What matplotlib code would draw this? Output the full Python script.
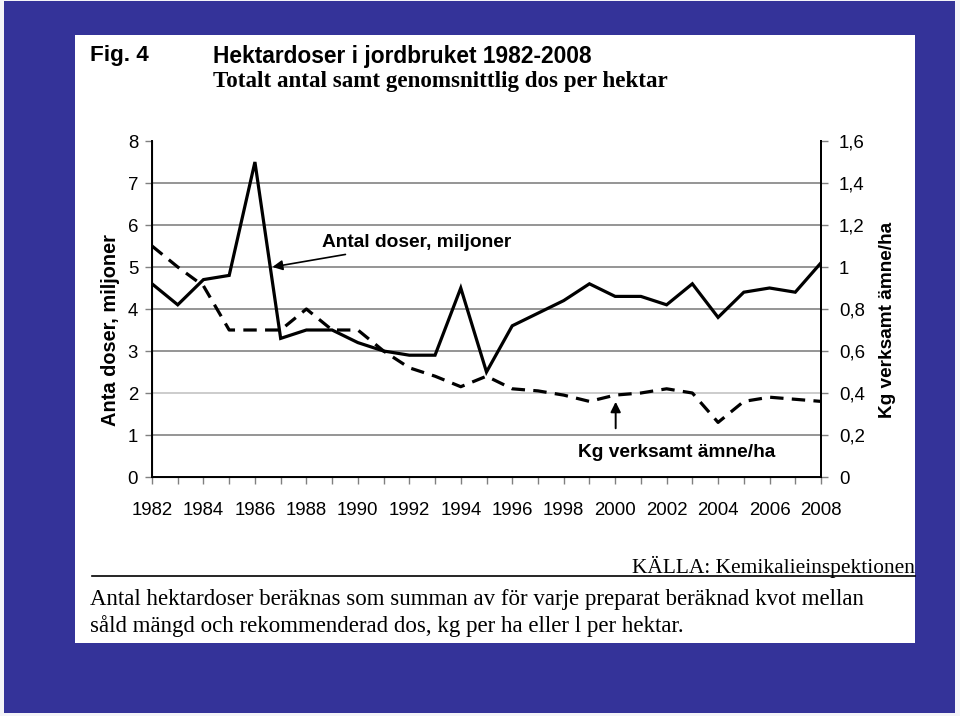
import numpy as np
import matplotlib
matplotlib.use("Agg")
from matplotlib import pyplot as plt
from matplotlib.patches import Rectangle

years = list(range(1982, 2009))
# Antal doser, miljoner (vänster axel)
doser = [4.6, 4.1, 4.7, 4.8, 7.5, 3.3, 3.5, 3.5, 3.2, 3.0, 2.9, 2.9, 4.5, 2.5,
         3.6, 3.9, 4.2, 4.6, 4.3, 4.3, 4.1, 4.6, 3.8, 4.4, 4.5, 4.4, 5.1]
# Kg verksamt ämne/ha (höger axel)
kg_ha = [1.10, 1.00, 0.91, 0.70, 0.70, 0.70, 0.80, 0.70, 0.70, 0.60, 0.52, 0.48, 0.43, 0.48,
         0.42, 0.41, 0.39, 0.36, 0.39, 0.40, 0.42, 0.40, 0.26, 0.36, 0.38, 0.37, 0.36]
left_ticks = [0, 1, 2, 3, 4, 5, 6, 7, 8]
right_ticks = [0, 0.2, 0.4, 0.6, 0.8, 1.0, 1.2, 1.4, 1.6]
right_labels = ["0", "0,2", "0,4", "0,6", "0,8", "1", "1,2", "1,4", "1,6"]

SANS = "Liberation Sans"
SERIF = "Liberation Serif"

W, H = 960, 716


def fx(x):
    return x / W


def fy(y):
    return 1 - y / H


def pt(px):
    return px * 0.72


fig = plt.figure(figsize=(9.6, 7.16), dpi=100)
fig.patch.set_facecolor("#f4f4f8")
fig.patches.append(Rectangle((fx(4), fy(713)), fx(951), (713 - 1) / H, transform=fig.transFigure,
                             facecolor="#343399", edgecolor="none", zorder=0))
fig.patches.append(Rectangle((fx(75), fy(643)), fx(840), (643 - 35) / H, transform=fig.transFigure,
                             facecolor="white", edgecolor="none", zorder=1))

ax = fig.add_axes([fx(152), fy(477), fx(821 - 152), (477 - 141) / H])
ax.set_facecolor("white")
ax.set_zorder(2)

for v in left_ticks[1:-1]:
    c = "#c8c8c8" if v == 2 else "#8c8c8c"
    ax.axhline(v, color=c, lw=1.3, zorder=1)

ax.plot(years, doser, color="black", lw=2.3, zorder=4, solid_joinstyle="miter")
ax.plot(years, np.array(kg_ha) * 5, color="black", lw=2.3, dashes=(4.2, 2.6), zorder=3)

ax.set_xlim(1982, 2008)
ax.set_ylim(0, 8)
ax.set_xticks(years)
ax.set_xticklabels([str(y) if y % 2 == 0 else "" for y in years])
ax.set_yticks(left_ticks)
ax.spines["top"].set_visible(False)
for s in ["left", "right", "bottom"]:
    ax.spines[s].set_linewidth(1.4)
ax.tick_params(axis="both", direction="out", length=5, width=1, color="#808080",
               labelsize=pt(18.6), pad=5)
ax.tick_params(axis="x", pad=13)
for lab in ax.get_xticklabels() + ax.get_yticklabels():
    lab.set_fontfamily(SANS)

ax2 = ax.twinx()
ax2.set_ylim(0, 1.6)
ax2.set_yticks(right_ticks)
ax2.set_yticklabels(right_labels)
ax2.spines["top"].set_visible(False)
ax2.spines["right"].set_linewidth(1.4)
ax2.tick_params(axis="y", direction="out", length=5, width=1, color="#808080",
                labelsize=pt(18.6), pad=8)
for lab in ax2.get_yticklabels():
    lab.set_fontfamily(SANS)

ax.annotate("Antal doser, miljoner", xy=(1986.68, 5.0), xytext=(1988.6, 5.59),
            fontsize=pt(19.1), fontweight="bold", family=SANS, va="center", ha="left",
            arrowprops=dict(arrowstyle="-|>", color="black", lw=1.2, mutation_scale=15,
                            shrinkA=4, shrinkB=0), zorder=6)
ax.annotate("", xy=(2000.02, 1.79), xytext=(2000.02, 1.16),
            arrowprops=dict(arrowstyle="-|>", color="black", lw=1.4, mutation_scale=15,
                            shrinkA=0, shrinkB=0), zorder=6)
ax.text(1998.56, 0.59, "Kg verksamt ämne/ha", fontsize=pt(19.1), fontweight="bold",
        family=SANS, va="center", ha="left", zorder=6)

fig.text(fx(110), fy(330), "Anta doser, miljoner", rotation=90, ha="center", va="center",
         fontsize=pt(20), fontweight="bold", family=SANS, zorder=5)
fig.text(fx(887), fy(320), "Kg verksamt ämne/ha", rotation=90, ha="center", va="center",
         fontsize=pt(19), fontweight="bold", family=SANS, zorder=5)

fig.text(fx(90), fy(56), "Fig. 4", ha="left", va="center", fontsize=pt(22.5),
         fontweight="bold", family=SANS, zorder=5)
fig.text(fx(213), fy(56), "Hektardoser i jordbruket 1982-2008", ha="left", va="center",
         fontsize=pt(22.8), fontweight="bold", family=SANS, zorder=5)
fig.text(fx(213), fy(82), "Totalt antal samt genomsnittlig dos per hektar", ha="left", va="center",
         fontsize=pt(23), fontweight="bold", family=SERIF, zorder=5)

fig.text(fx(915), fy(573), "KÄLLA: Kemikalieinspektionen", ha="right", va="baseline",
         fontsize=pt(21.4), family=SERIF, zorder=5)
fig.add_artist(plt.Line2D([fx(92), fx(915)], [fy(576), fy(576)], color="black", lw=1.2,
                          transform=fig.transFigure, zorder=5))
fig.text(fx(90), fy(600), "Antal hektardoser beräknas som summan av för varje preparat beräknad kvot mellan",
         ha="left", va="center", fontsize=pt(22.9), family=SERIF, zorder=5)
fig.text(fx(90), fy(626), "såld mängd och rekommenderad dos, kg per ha eller l per hektar.",
         ha="left", va="center", fontsize=pt(22.9), family=SERIF, zorder=5)

fig.savefig("out.png", dpi=100, facecolor=fig.get_facecolor())
